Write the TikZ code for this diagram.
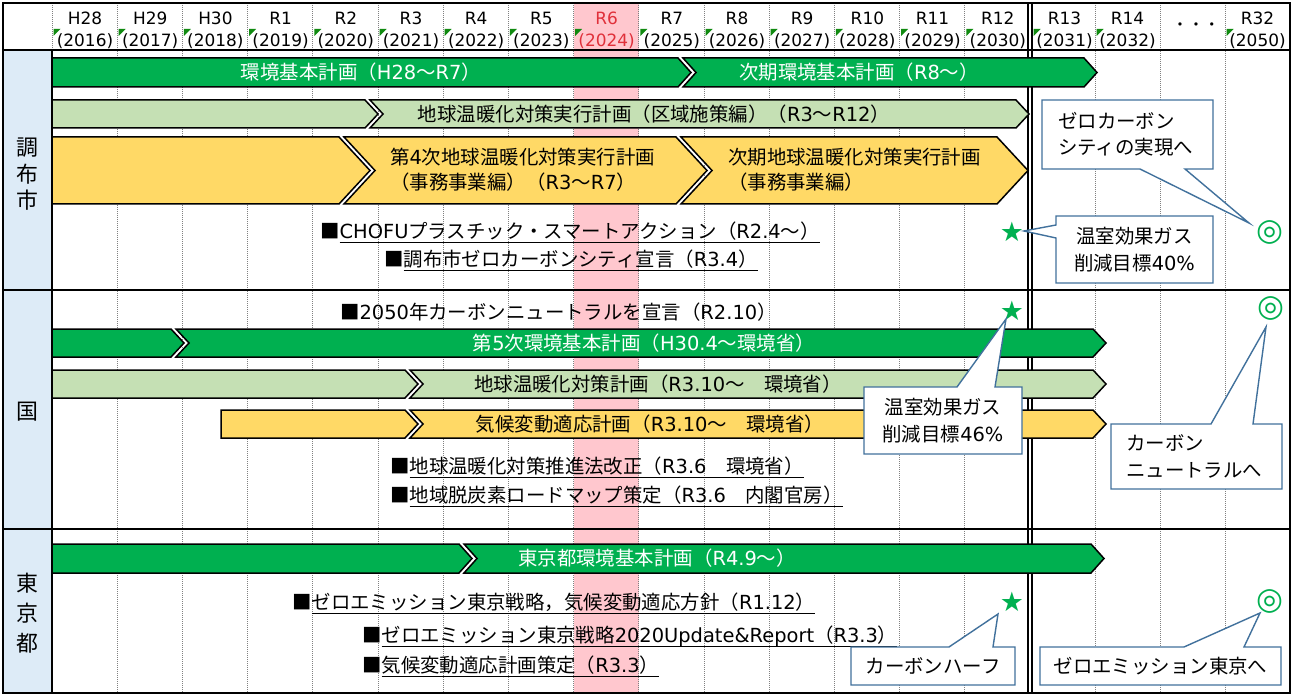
\documentclass[tikz,border=0pt]{standalone}
\usepackage{fontspec}
\setmainfont{Noto Sans CJK JP}
\newfontfamily\lat{DejaVu Sans}
\newfontfamily\sym{DejaVu Sans}
\newcommand\lt[1]{{\lat #1}}
\definecolor{dgreen}{HTML}{00B050}
\definecolor{lgreen}{HTML}{C5E0B4}
\definecolor{ybar}{HTML}{FFD966}
\definecolor{pinkcol}{HTML}{FFC7CE}
\definecolor{labblue}{HTML}{DDEBF7}
\definecolor{callblue}{HTML}{41719C}
\definecolor{redtxt}{HTML}{E0303A}
\definecolor{tricol}{HTML}{108A10}
\newcommand\chevF[6]{\path[barline,fill=#1] (#2,#4) -- (#3,#4) -- ({#3+#6},{(#4+#5)/2}) -- (#3,#5) -- (#2,#5) -- cycle;}
\newcommand\chevN[6]{\path[barline,fill=#1] (#2,#4) -- (#3,#4) -- ({#3+#6},{(#4+#5)/2}) -- (#3,#5) -- (#2,#5) -- ({#2+#6},{(#4+#5)/2}) -- cycle;}
\newcommand\myul[1]{\setbox0\hbox{#1}\rlap{\rule[-4.5bp]{\wd0}{1bp}}\box0}
\begin{document}
\begin{tikzpicture}[x=1bp,y=-1bp,
  barline/.style={draw=black,line width=1.5bp,line join=miter},
  gridl/.style={draw=gray,line width=0.8bp,dash pattern=on 1bp off 1bp},
  frame/.style={draw=black,line width=1.8bp},
  wtxt/.style={text=white,inner sep=0,font=\fontsize{19.5}{24}\selectfont},
  btxt/.style={text=black,inner sep=0,font=\fontsize{19.5}{25}\selectfont},
  itemtxt/.style={anchor=west,inner sep=0,font=\fontsize{19.5}{24}\selectfont},
  hdr/.style={inner sep=0,font=\lat\fontsize{17}{22}\selectfont},
  lab/.style={inner sep=0,font=\fontsize{22}{26}\selectfont},
  callbox/.style={draw=callblue,fill=white,line width=1.4bp,line join=miter},
  ctxt/.style={inner sep=0,font=\fontsize{19.5}{26.5}\selectfont},
  greenmark/.style={inner sep=0,text=dgreen,font=\sym\fontsize{27}{28}\selectfont},
  greenring/.style={inner sep=0,text=dgreen,font=\sym\fontsize{31}{32}\selectfont}]
\useasboundingbox (0,0) rectangle (1292,695);
\fill[white] (0,0) rectangle (1292,695);
\fill[labblue] (3,50) rectangle (52,693);
\fill[pinkcol] (573.6,3) rectangle (638.8,693);
% grid
\foreach \k in {1,...,14} \draw[gridl] ({52+65.2*\k},3) -- ({52+65.2*\k},693);
\foreach \m in {1,2,3} \draw[gridl] ({1030+65*\m},3) -- ({1030+65*\m},693);
\draw[gridl] (52,3) -- (52,50);
% frame
\draw[draw=black,line width=1.2bp] (52,50) -- (52,693);
\draw[draw=black,line width=1.2bp] (1028,3) -- (1028,693);
\draw[draw=black,line width=1.2bp] (1032,3) -- (1032,693);
\draw[frame] (3,50) -- (1290,50);
\draw[frame] (3,290) -- (1290,290);
\draw[frame] (3,529) -- (1290,529);
\draw[frame] (3,3) rectangle (1290,693);
% header
\foreach \k/\a/\b in {0/H28/2016,1/H29/2017,2/H30/2018,3/R1/2019,4/R2/2020,5/R3/2021,6/R4/2022,7/R5/2023,9/R7/2025,10/R8/2026,11/R9/2027,12/R10/2028,13/R11/2029,14/R12/2030}{
  \node[hdr] (h\k) at ({85+65.2*\k},18) {\a};
  \node[hdr] (y\k) at ({85+65.2*\k},41) {(\b)};
  \fill[tricol] ({53.5+65.2*\k},29) -- ({60.5+65.2*\k},29) -- ({53.5+65.2*\k},36) -- cycle;
}
\node[hdr,text=redtxt] (h8) at ({85+65.2*8},18) {R6};
\node[hdr,text=redtxt] (y8) at ({85+65.2*8},41) {(2024)};
\fill[tricol] ({53.5+65.2*8},29) -- ({60.5+65.2*8},29) -- ({53.5+65.2*8},36) -- cycle;
\foreach \k/\a/\b/\x in {15/R13/2031/1032,16/R14/2032/1095,18/R32/2050/1225}{
  \node[hdr] (h\k) at ({\x+32.5},18) {\a};
  \node[hdr] (y\k) at ({\x+32.5},41) {(\b)};
  \fill[tricol] ({\x+1.5},29) -- ({\x+8.5},29) -- ({\x+1.5},36) -- cycle;
}
\node[inner sep=0,font=\fontsize{16}{18}\selectfont] (h17) at (1196,27) {・・・};
% section labels
\node[lab] (l1) at (27,148) {調};
\node[lab] (l2) at (27,174) {布};
\node[lab] (l3) at (27,200) {市};
\node[lab] (l4) at (27,412) {国};
\node[lab] (l5) at (27,583) {東};
\node[lab] (l6) at (27,613) {京};
\node[lab] (l7) at (27,643) {都};
% Chofu bars
\chevF{dgreen}{52}{678}{58}{87}{13}
\chevN{dgreen}{683}{1084}{58}{87}{13}
\chevF{lgreen}{52}{365}{100}{128}{13}
\chevN{lgreen}{370}{1016}{100}{128}{13}
\chevF{ybar}{52}{339}{137}{204}{31}
\chevN{ybar}{344}{676}{137}{204}{31}
\chevN{ybar}{681}{997}{137}{204}{31}
\node[wtxt] (tA1) at (361,72.5) {環境基本計画（\lt{H28}〜\lt{R7}）};
\node[wtxt] (tA2) at (859,72.5) {次期環境基本計画（\lt{R8}〜）};
\node[btxt] (tB) at (654,114) {地球温暖化対策実行計画（区域施策編）（\lt{R3}〜\lt{R12}）};
\node[btxt,anchor=west,align=left] (tC2) at (390,170) {第\lt{4}次地球温暖化対策実行計画\\（事務事業編）（\lt{R3}〜\lt{R7}）};
\node[btxt,anchor=west,align=left] (tC3) at (728,170) {次期地球温暖化対策実行計画\\（事務事業編）};
\node[itemtxt] (i1) at (320,232) {■\myul{\lt{CHOFU}プラスチック・スマートアクション（\lt{R2.4}〜）}};
\node[itemtxt] (i2) at (384,260) {■\myul{調布市ゼロカーボンシティ宣言（\lt{R3.4}）}};
% Kuni bars
\node[itemtxt] (i3) at (340,312) {■\lt{2050}年カーボンニュートラルを宣言（\lt{R2.10}）};
\chevF{dgreen}{52}{171}{329}{357}{13}
\chevN{dgreen}{176}{1093}{329}{357}{13}
\chevF{lgreen}{52}{405}{370}{398}{13}
\chevN{lgreen}{410}{1093}{370}{398}{13}
\chevF{ybar}{221}{405}{410}{438}{13}
\chevN{ybar}{410}{1093}{410}{438}{13}
\node[wtxt] (tD) at (644,343) {第\lt{5}次環境基本計画（\lt{H30.4}〜環境省）};
\node[btxt] (tE) at (658,384) {地球温暖化対策計画（\lt{R3.10}〜　環境省）};
\node[btxt] (tF) at (650,424) {気候変動適応計画（\lt{R3.10}〜　環境省）};
\node[itemtxt] (i4) at (390,467) {■\myul{地球温暖化対策推進法改正（\lt{R3.6}　環境省）}};
\node[itemtxt] (i5) at (390,496) {■\myul{地域脱炭素ロードマップ策定（\lt{R3.6}　内閣官房）}};
% Tokyo bars
\chevF{dgreen}{52}{459}{544}{573}{13}
\chevN{dgreen}{464}{1091}{544}{573}{13}
\node[wtxt] (tG) at (657,558) {東京都環境基本計画（\lt{R4.9}〜）};
\node[itemtxt] (i6) at (292,603) {■\myul{ゼロエミッション東京戦略，気候変動適応方針（\lt{R1.12}）}};
\node[itemtxt] (i7) at (362,636) {■\myul{ゼロエミッション東京戦略\lt{2020Update\&Report}（\lt{R3.3}）}};
\node[itemtxt] (i8) at (362,666) {■\myul{気候変動適応計画策定（\lt{R3.3}）}};
% marks
\node[greenmark] (s1) at (1012,232) {★};
\node[greenmark] (s2) at (1012,311) {★};
\node[greenmark] (s3) at (1012,602) {★};
\node[greenring] (o1) at (1270,232) {◎};
\node[greenring] (o2) at (1271,308) {◎};
\node[greenring] (o3) at (1270,601) {◎};
% callouts
\path[callbox] (1042,100) -- (1213,100) -- (1213,169) -- (1185,169) -- (1249,223) -- (1140,169) -- (1042,169) -- cycle;
\node[ctxt,anchor=west,align=left] (c1) at (1058,134.5) {ゼロカーボン\\シティの実現へ};
\path[callbox] (1056,216) -- (1213,216) -- (1213,283) -- (1056,283) -- (1056,238) -- (1024,231) -- (1056,225) -- cycle;
\node[ctxt,align=center] (c2) at (1134.5,249.5) {温室効果ガス\\削減目標\lt{40\%}};
\path[callbox] (864,387) -- (957,387) -- (1006,319) -- (995,387) -- (1022,387) -- (1022,454) -- (864,454) -- cycle;
\node[ctxt,align=center] (c3) at (943,420.5) {温室効果ガス\\削減目標\lt{46\%}};
\path[callbox] (1111,424) -- (1211,424) -- (1266,327) -- (1253,424) -- (1282,424) -- (1282,489) -- (1111,489) -- cycle;
\node[ctxt,anchor=west,align=left] (c4) at (1126,456.5) {カーボン\\ニュートラルへ};
\path[callbox] (851,647) -- (949,647) -- (998,614) -- (993,647) -- (1015,647) -- (1015,685) -- (851,685) -- cycle;
\node[ctxt] (c5) at (933,666) {カーボンハーフ};
\path[callbox] (1040,647) -- (1184,647) -- (1260,613) -- (1244,647) -- (1281,647) -- (1281,685) -- (1040,685) -- cycle;
\node[ctxt] (c6) at (1160.5,666) {ゼロエミッション東京へ};
\end{tikzpicture}
\end{document}
